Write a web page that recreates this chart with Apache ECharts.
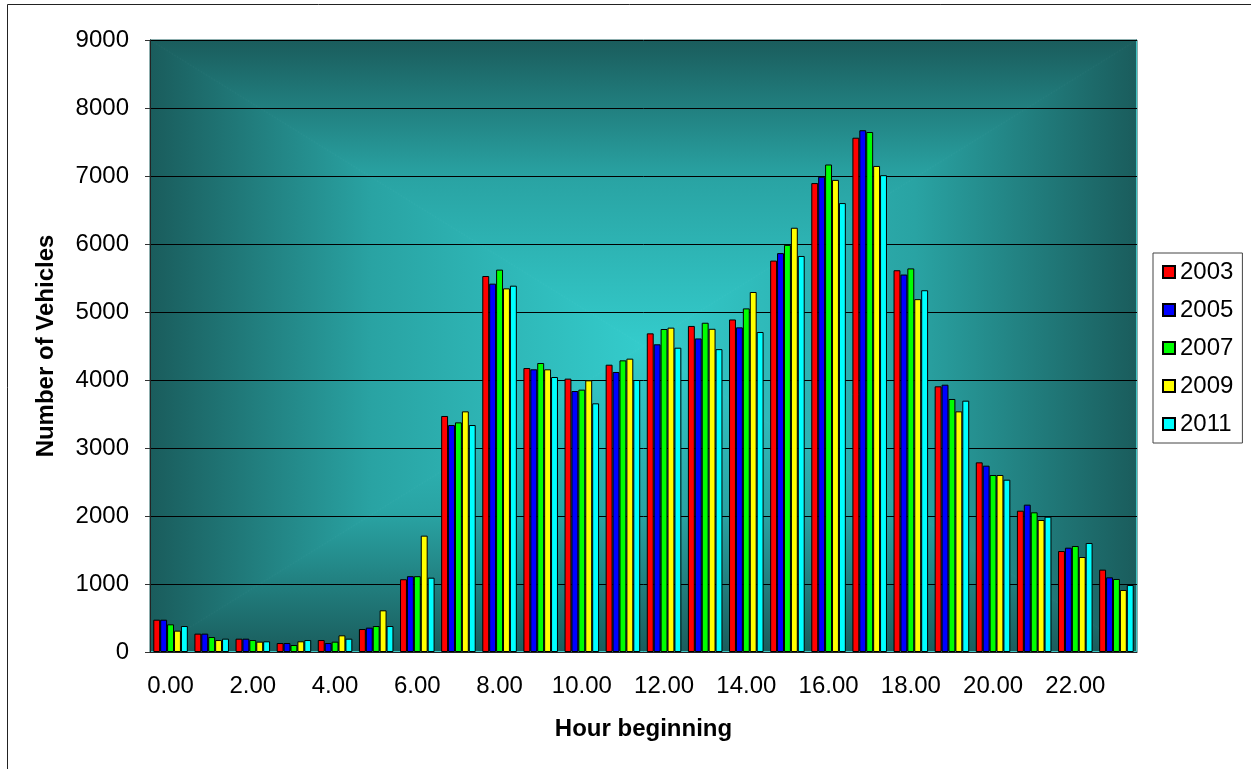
<!DOCTYPE html>
<html>
<head>
<meta charset="utf-8">
<script src="https://cdn.jsdelivr.net/npm/echarts@6/dist/echarts.min.js"></script>
<style>
  html, body { margin: 0; padding: 0; background: #fff; }
  #chart { width: 1251px; height: 769px; }
</style>
</head>
<body>
<div id="chart"></div>
<script>
const hours = [
  "0.00", "1.00", "2.00", "3.00", "4.00", "5.00", "6.00", "7.00",
  "8.00", "9.00", "10.00", "11.00", "12.00", "13.00", "14.00", "15.00",
  "16.00", "17.00", "18.00", "19.00", "20.00", "21.00", "22.00", "23.00",
];
const years = ["2003", "2005", "2007", "2009", "2011"];
const colors = ["#ff0000", "#0000ff", "#00ff00", "#ffff00", "#00ffff"];

const v2003 = [475, 270, 196, 132, 176, 338, 1070, 3471, 5529, 4176, 4020, 4225,
  4686, 4795, 4890, 5756, 6896, 7563, 5614, 3907, 2789, 2078, 1485, 1211];
const v2005 = [475, 270, 196, 132, 132, 358, 1115, 3338, 5417, 4157, 3838, 4118,
  4525, 4611, 4774, 5866, 6990, 7673, 5551, 3931, 2740, 2167, 1534, 1098];
const v2007 = [407, 220, 176, 103, 152, 382, 1115, 3377, 5623, 4250, 3858, 4289,
  4750, 4842, 5053, 5987, 7169, 7647, 5641, 3721, 2603, 2054, 1559, 1074];
const v2009 = [314, 176, 152, 157, 245, 613, 1711, 3539, 5348, 4157, 3995, 4314,
  4770, 4753, 5294, 6239, 6943, 7148, 5189, 3539, 2603, 1941, 1397, 912];
const v2011 = [382, 196, 157, 176, 196, 382, 1093, 3338, 5387, 4044, 3657, 4000,
  4475, 4454, 4706, 5824, 6602, 7012, 5320, 3696, 2534, 1990, 1603, 985];
const values = [v2003, v2005, v2007, v2009, v2011];

// plot area in pixels
const gx = 150, gy = 40, gw = 987, gh = 612;
const cx = gx + gw / 2, cy = gy + gh / 2;

const edge = "#1a5c5c", mid = "#34cccc";

// one triangle per side, each with a linear gradient from edge to centre,
// which gives the rectangular "from centre" fill of the plot area
const tri = (pts, x, y, x2, y2) => {
  const grad = {
    type: "linear", x: x, y: y, x2: x2, y2: y2,
    colorStops: [
      { offset: 0, color: edge },
      { offset: 0.45, color: "#29a3a3" },
      { offset: 1, color: mid },
    ],
  };
  return {
    type: "polygon",
    z: -10,
    silent: true,
    shape: { points: pts },
    style: { fill: grad, stroke: grad, lineWidth: 1 },
  };
};

const chart = echarts.init(document.getElementById("chart"));

const option = {
  animation: false,
  textStyle: { fontFamily: "Liberation Sans, Arial, sans-serif" },
  graphic: [
    {
      type: "rect",
      z: -20,
      silent: true,
      shape: { x: 7.5, y: 4.5, width: 1400, height: 900 },
      style: { fill: "#fff", stroke: "#222", lineWidth: 1 },
    },
    tri([[gx, gy], [gx + gw, gy], [cx, cy]], 0, 0, 0, 1),
    tri([[gx, gy + gh], [gx + gw, gy + gh], [cx, cy]], 0, 1, 0, 0),
    tri([[gx, gy], [gx, gy + gh], [cx, cy]], 0, 0, 1, 0),
    tri([[gx + gw, gy], [gx + gw, gy + gh], [cx, cy]], 1, 0, 0, 0),
    {
      type: "rect",
      z: -5,
      silent: true,
      shape: { x: gx + 0.5, y: gy + 0.5, width: gw - 1, height: gh - 1 },
      style: { fill: null, stroke: "#3fc4c4", lineWidth: 1 },
    },
  ],
  grid: { left: gx, top: gy, width: gw, height: gh },
  legend: {
    orient: "vertical",
    left: 1153,
    top: 253,
    padding: [7, 9, 7, 9],
    itemGap: 14,
    itemWidth: 12,
    itemHeight: 12,
    icon: "rect",
    backgroundColor: "#fff",
    borderColor: "#444",
    borderWidth: 1,
    textStyle: { fontSize: 24, color: "#000" },
    data: years,
  },
  xAxis: {
    type: "category",
    data: hours,
    name: "Hour beginning",
    nameLocation: "middle",
    nameGap: 65,
    nameTextStyle: { fontSize: 24, fontWeight: "bold", color: "#000" },
    axisLine: { lineStyle: { color: "#222" } },
    axisTick: { interval: 0, length: 6, lineStyle: { color: "#555" } },
    axisLabel: { interval: 1, fontSize: 24, color: "#000", margin: 22 },
  },
  yAxis: {
    type: "value",
    min: 0,
    max: 9000,
    interval: 1000,
    name: "Number of Vehicles",
    nameLocation: "middle",
    nameGap: 92,
    nameTextStyle: { fontSize: 24, fontWeight: "bold", color: "#000" },
    axisLine: { show: true, lineStyle: { color: "#222" } },
    axisTick: { show: true, length: 5, lineStyle: { color: "#333" } },
    axisLabel: { fontSize: 24, color: "#000", margin: 21, formatter: (v) => String(v) },
    splitLine: { lineStyle: { color: "#000", width: 1 } },
  },
  series: years.map((y, i) => ({
    name: y,
    type: "bar",
    data: values[i],
    barGap: "0%",
    barCategoryGap: "16%",
    itemStyle: { color: colors[i], borderColor: "#000", borderWidth: 1 },
  })),
};

chart.setOption(option);
</script>
</body>
</html>
